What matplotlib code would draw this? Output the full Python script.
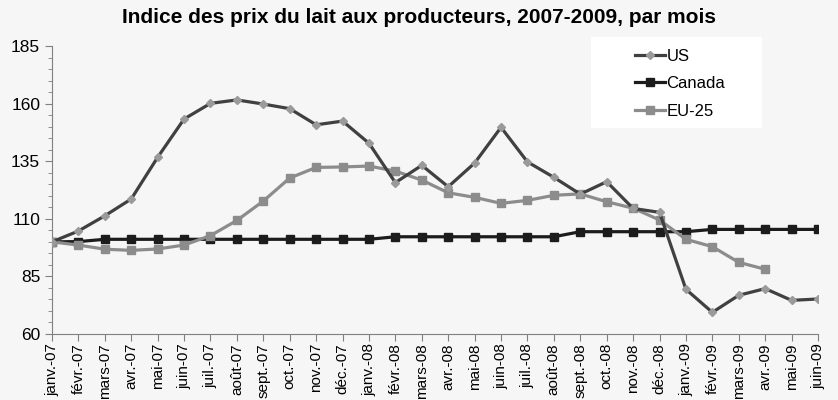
import matplotlib
matplotlib.use("Agg")
import matplotlib.pyplot as plt
from matplotlib.patches import Rectangle

plt.rcParams['font.family'] = ['Liberation Sans', 'DejaVu Sans']

mois = ["janv.-07", "févr.-07", "mars-07", "avr.-07", "mai-07", "juin-07",
        "juil.-07", "août-07", "sept.-07", "oct.-07", "nov.-07", "déc.-07",
        "janv.-08", "févr.-08", "mars-08", "avr.-08", "mai-08", "juin-08",
        "juil.-08", "août-08", "sept.-08", "oct.-08", "nov.-08", "déc.-08",
        "janv.-09", "févr.-09", "mars-09", "avr.-09", "mai-09", "juin-09"]

us = [100, 104.7, 111.3, 118.6, 136.7, 153.3, 160.1, 161.6, 159.8, 157.8,
      150.8, 152.4, 142.8, 125.7, 133.2, 123.9, 134.2, 149.7, 134.7, 128.0,
      120.7, 126.1, 114.5, 112.8, 79.4, 69.4, 76.8, 79.7, 74.6, 75.2]

canada = [100, 100.1, 101.1, 101.1, 101.1, 101.1, 101.1, 101.1, 101.1, 101.1,
          101.1, 101.1, 101.1, 102.2, 102.2, 102.2, 102.2, 102.2, 102.2, 102.2,
          104.4, 104.4, 104.4, 104.4, 104.4, 105.4, 105.4, 105.4, 105.4, 105.4]

eu25 = [100, 98.6, 96.8, 96.3, 96.9, 98.6, 102.7, 109.3, 117.7, 127.7,
        132.3, 132.5, 132.9, 130.7, 126.8, 121.3, 119.3, 116.7, 118.0, 120.2,
        120.8, 117.4, 114.6, 109.5, 101.1, 97.9, 91.1, 88.1]

y_ticks = [60, 85, 110, 135, 160, 185]

fond = "#f6f6f6"
fig = plt.figure(figsize=(8.38, 4.0), dpi=100, facecolor=fond)
ax = fig.add_axes([52 / 838, 1 - 334 / 400, (818 - 52) / 838, (334 - 46) / 400])
ax.set_facecolor(fond)

x = list(range(len(mois)))
ax.plot(x, us, color="#404040", lw=2.3, marker="D", ms=4,
        mfc="#9a9a9a", mec="#9a9a9a", label="US", zorder=3)
ax.plot(x, canada, color="#1c1c1c", lw=2.3, marker="s", ms=5.5,
        mfc="#1c1c1c", mec="#1c1c1c", label="Canada", zorder=2)
ax.plot(x[:len(eu25)], eu25, color="#8c8c8c", lw=2.3, marker="s", ms=5.5,
        mfc="#8c8c8c", mec="#8c8c8c", label="EU-25", zorder=2)

ax.set_xlim(0, len(mois) - 1)
ax.set_ylim(60, 185)
ax.set_yticks(y_ticks)
ax.set_yticks(range(60, 186, 5), minor=True)
ax.set_xticks(x)
ax.set_xticklabels(mois, rotation=90, fontsize=11)
ax.tick_params(axis="y", labelsize=12.5, length=5, color="#808080")
ax.tick_params(axis="y", which="minor", length=3, color="#808080")
ax.tick_params(axis="x", length=5, color="#808080", pad=1.5)

for s in ["top", "right"]:
    ax.spines[s].set_visible(False)
for s in ["left", "bottom"]:
    ax.spines[s].set_color("#808080")

fig.suptitle("Indice des prix du lait aux producteurs, 2007-2009, par mois",
             x=0.5, y=0.98, fontsize=15, fontweight="bold")

# boite blanche de la legende
fig.patches.append(Rectangle((591 / 838, 1 - 128 / 400), (762 - 591) / 838, 91 / 400,
                             transform=fig.transFigure, facecolor="white",
                             edgecolor="none", zorder=1))
fig.legend(loc="upper left", bbox_to_anchor=(628 / 838, 1 - 42 / 400),
           frameon=False, fontsize=12, handlelength=1.8, handletextpad=0.1,
           labelspacing=0.75, borderaxespad=0)

fig.savefig("out.png", dpi=100, facecolor=fond)
